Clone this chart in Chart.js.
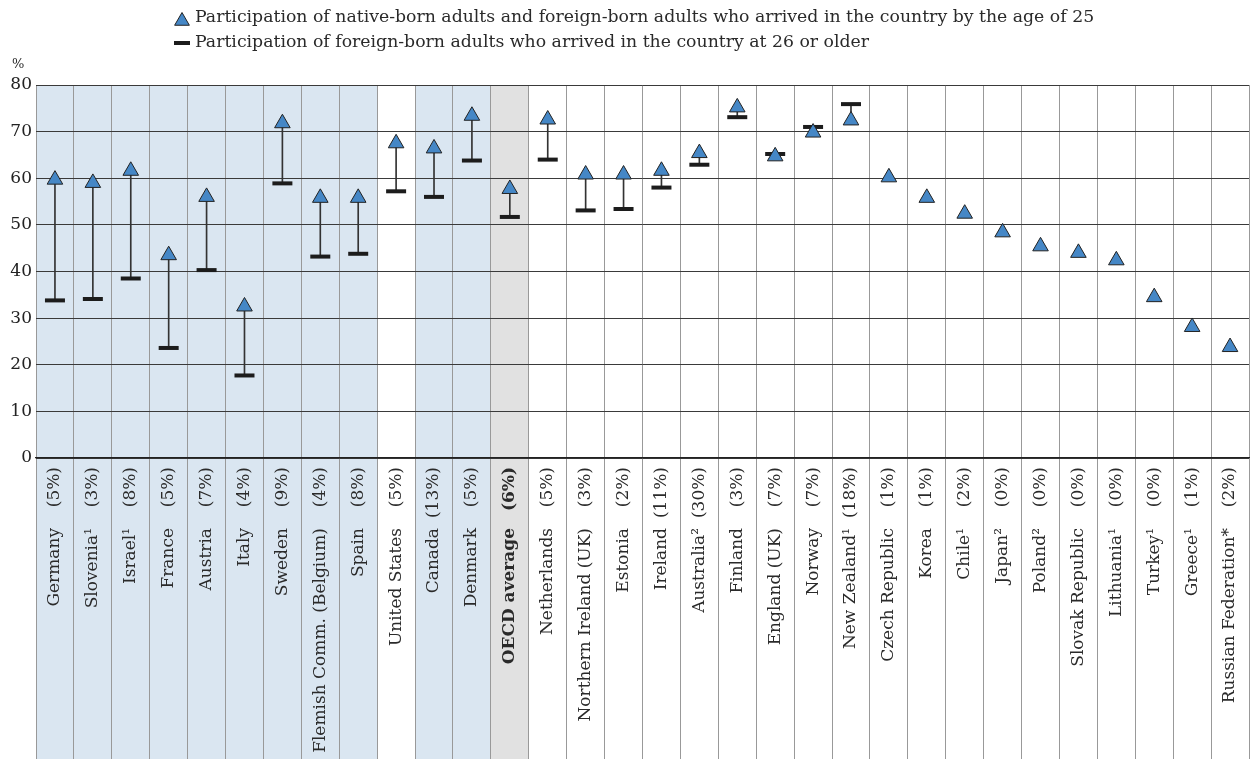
<!DOCTYPE html>
<html>
<head>
<meta charset="utf-8">
<script src="https://cdn.jsdelivr.net/npm/chart.js@4.4.0/dist/chart.umd.min.js"></script>
<style>
  html, body { margin: 0; padding: 0; background: #fff; }
  #wrap { width: 1255px; height: 759px; }
</style>
</head>
<body>
<div id="wrap"><canvas id="chart" width="1255" height="759"></canvas></div>
<script>
// categories, in the order of the figure
const countries = [
  'Germany', 'Slovenia¹', 'Israel¹', 'France', 'Austria', 'Italy', 'Sweden',
  'Flemish Comm. (Belgium)', 'Spain', 'United States', 'Canada', 'Denmark',
  'OECD average', 'Netherlands', 'Northern Ireland (UK)', 'Estonia', 'Ireland',
  'Australia²', 'Finland', 'England (UK)', 'Norway', 'New Zealand¹',
  'Czech Republic', 'Korea', 'Chile¹', 'Japan²', 'Poland²', 'Slovak Republic',
  'Lithuania¹', 'Turkey¹', 'Greece¹', 'Russian Federation*'
];
const shares = [
  '(5%)', '(3%)', '(8%)', '(5%)', '(7%)', '(4%)', '(9%)', '(4%)', '(8%)', '(5%)',
  '(13%)', '(5%)', '(6%)', '(5%)', '(3%)', '(2%)', '(11%)', '(30%)', '(3%)', '(7%)',
  '(7%)', '(18%)', '(1%)', '(1%)', '(2%)', '(0%)', '(0%)', '(0%)', '(0%)', '(0%)',
  '(1%)', '(2%)'
];
// native-born adults and foreign-born who arrived by age 25
const nativeRate = [
  59.7, 59.0, 61.6, 43.5, 56.0, 32.5, 71.8, 55.8, 55.8, 67.5, 66.4, 73.4,
  57.7, 72.6, 60.8, 60.8, 61.6, 65.4, 75.2, 64.7, 69.8, 72.4, 60.2, 55.8,
  52.4, 48.4, 45.4, 44.0, 42.4, 34.5, 28.1, 23.8
];
// foreign-born adults who arrived at 26 or older
const lateArrivalRate = [
  33.8, 34.1, 38.5, 23.6, 40.3, 17.7, 58.9, 43.2, 43.8, 57.2, 56.0, 63.8,
  51.7, 64.0, 53.1, 53.4, 58.0, 62.9, 73.1, 65.2, 71.0, 75.9, null, null,
  null, null, null, null, null, null, null, null
];
// column shading groups
const groups = [
  'blue', 'blue', 'blue', 'blue', 'blue', 'blue', 'blue', 'blue', 'blue', 'none',
  'blue', 'blue', 'grey', 'none', 'none', 'none', 'none', 'none', 'none', 'none',
  'none', 'none', 'none', 'none', 'none', 'none', 'none', 'none', 'none', 'none',
  'none', 'none'
];
const legendLabels = [
  'Participation of native-born adults and foreign-born adults who arrived in the country by the age of 25',
  'Participation of foreign-born adults who arrived in the country at 26 or older'
];

const FONT = '"DejaVu Serif", serif';
const shading = { blue: '#dae6f1', grey: '#e1e1e1' };
const triBlue = '#4587c6';

// thin lines joining the two markers
const whiskers = lateArrivalRate.map((v, i) => v == null ? null : [v, nativeRate[i]]);

const decor = {
  id: 'decor',
  beforeDraw(chart) {
    const { ctx, chartArea, scales: { x } } = chart;
    const w = x.width / countries.length;
    ctx.save();
    groups.forEach((g, i) => {
      if (!shading[g]) return;
      const cx = x.getPixelForValue(i);
      ctx.fillStyle = shading[g];
      ctx.fillRect(cx - w / 2, chartArea.top, w, chart.height - chartArea.top);
    });
    ctx.restore();
  },
  afterDraw(chart) {
    const { ctx, scales: { x } } = chart;
    ctx.save();
    ctx.fillStyle = '#2a2a2a';
    ctx.textBaseline = 'middle';
    ctx.textAlign = 'right';
    countries.forEach((name, i) => {
      const cx = x.getPixelForValue(i);
      const bold = name === 'OECD average' ? 'bold ' : '';
      ctx.save();
      ctx.translate(cx, 0);
      ctx.rotate(-Math.PI / 2);
      ctx.font = bold + '17px ' + FONT;
      ctx.fillText(shares[i], -467, 0);
      ctx.fillText(name, -528, 0);
      ctx.restore();
    });

    // legend
    ctx.textAlign = 'left';
    ctx.font = '17.3px ' + FONT;
    ctx.fillStyle = triBlue;
    ctx.strokeStyle = '#222';
    ctx.lineWidth = 1;
    Chart.helpers.drawPoint(ctx, { pointStyle: 'triangle', radius: 8.5, borderWidth: 1 }, 182, 21);
    ctx.beginPath();
    ctx.lineWidth = 4;
    ctx.strokeStyle = '#1c1c1c';
    ctx.moveTo(174, 43);
    ctx.lineTo(190, 43);
    ctx.stroke();
    ctx.fillStyle = '#2a2a2a';
    ctx.fillText(legendLabels[0], 195, 18);
    ctx.fillText(legendLabels[1], 195, 43);

    // unit
    ctx.font = '13px ' + FONT;
    ctx.fillText('%', 12, 65);
    ctx.restore();
  }
};

new Chart(document.getElementById('chart'), {
  type: 'bar',
  data: {
    labels: countries,
    datasets: [
      {
        type: 'line',
        label: legendLabels[0],
        data: nativeRate,
        showLine: false,
        pointStyle: 'triangle',
        pointRadius: 9,
        pointBackgroundColor: triBlue,
        pointBorderColor: '#222',
        pointBorderWidth: 1,
        order: 1
      },
      {
        type: 'line',
        label: legendLabels[1],
        data: lateArrivalRate,
        showLine: false,
        pointStyle: 'line',
        pointRadius: 10,
        pointBorderColor: '#1c1c1c',
        pointBorderWidth: 4,
        order: 2
      },
      {
        type: 'bar',
        label: 'gap',
        data: whiskers,
        backgroundColor: '#333',
        barThickness: 1,
        order: 3
      }
    ]
  },
  options: {
    responsive: false,
    animation: false,
    layout: { autoPadding: false, padding: { top: 85, right: 6, left: 0, bottom: 0 } },
    plugins: { legend: { display: false }, tooltip: { enabled: false } },
    scales: {
      x: {
        offset: true,
        grid: { offset: true, color: '#999', lineWidth: 1, tickLength: 301, drawTicks: true },
        ticks: { display: false },
        border: { display: true, color: '#222', width: 1.2 }
      },
      y: {
        min: 0,
        max: 80,
        afterFit: s => { s.width = 36; },
        ticks: { stepSize: 10, padding: 4, color: '#222', font: { family: FONT, size: 17 } },
        grid: { color: '#3a3a3a', lineWidth: 1, drawTicks: false },
        border: { display: false }
      }
    }
  },
  plugins: [decor]
});
</script>
</body>
</html>
